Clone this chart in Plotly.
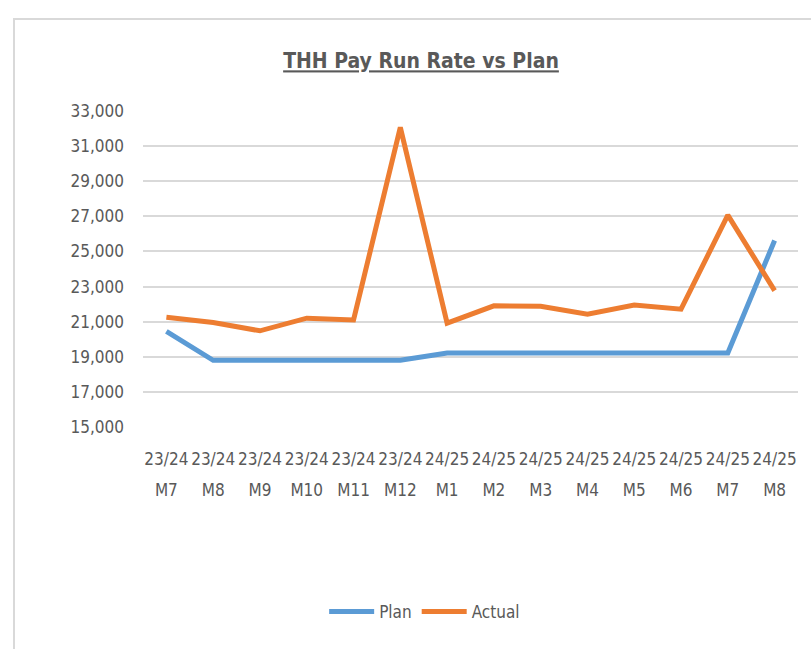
import plotly.graph_objects as go

# Monthly pay run rate against plan
periods = ["23/24"] * 6 + ["24/25"] * 8
months = ["M7", "M8", "M9", "M10", "M11", "M12",
          "M1", "M2", "M3", "M4", "M5", "M6", "M7", "M8"]
plan = [20450, 18800, 18800, 18800, 18800, 18800,
        19220, 19220, 19220, 19220, 19220, 19220, 19220, 25620]
actual = [21250, 20950, 20480, 21200, 21100, 32070,
          20920, 21900, 21880, 21430, 21950, 21710, 27070, 22770]
y_ticks = list(range(15000, 33001, 2000))

idx = list(range(len(months)))

FONT = "Liberation Sans Narrow, DejaVu Sans Condensed, Arial Narrow, sans-serif"
TEXT = "#595959"
GRID = "#d9d9d9"
BLUE = "#5b9bd5"
ORANGE = "#ed7d31"

fig = go.Figure()
fig.add_trace(go.Scatter(x=idx, y=plan, name="Plan", mode="lines",
                         line=dict(color=BLUE, width=5)))
fig.add_trace(go.Scatter(x=idx, y=actual, name="Actual", mode="lines",
                         line=dict(color=ORANGE, width=5)))
# carrier trace for the second row of category labels
fig.add_trace(go.Scatter(x=idx, y=plan, xaxis="x2", mode="none",
                         showlegend=False, hoverinfo="skip"))

axis_common = dict(range=[-0.5, len(months) - 0.5], tickvals=idx,
                   showgrid=False, zeroline=False, showline=False,
                   ticks="", tickangle=0,
                   tickfont=dict(family=FONT, size=17, color=TEXT))

fig.update_layout(
    width=811, height=649,
    margin=dict(l=143, r=13, t=111, b=222),
    paper_bgcolor="white", plot_bgcolor="white",
    title=dict(text="<b><u>THH Pay Run Rate vs Plan</u></b>",
               x=421 / 811, xref="container", xanchor="center",
               y=1 - 61 / 649, yref="container", yanchor="middle",
               font=dict(family=FONT, size=21, color=TEXT)),
    xaxis=dict(ticktext=periods, ticklabelstandoff=20, **axis_common),
    xaxis2=dict(ticktext=months, overlaying="x", anchor="y", side="bottom",
                ticklabelstandoff=51, **axis_common),
    yaxis=dict(range=[15000, 33000], tickvals=y_ticks, tickformat=",",
               showgrid=True, gridcolor=GRID, gridwidth=2,
               zeroline=False, showline=False, ticks="",
               ticklabelstandoff=18,
               tickfont=dict(family=FONT, size=17, color=TEXT)),
    legend=dict(orientation="h", x=0.43, xanchor="center",
                y=-0.585, yanchor="middle", itemwidth=45,
                font=dict(family=FONT, size=17, color=TEXT)),
    showlegend=True,
    shapes=[dict(type="rect", xref="paper", yref="paper",
                 x0=(14 - 143) / 655, x1=1.03,
                 y0=-0.75, y1=(427 - 19) / 316,
                 line=dict(color=GRID, width=2), layer="below")],
)

fig.write_html("out.html")
